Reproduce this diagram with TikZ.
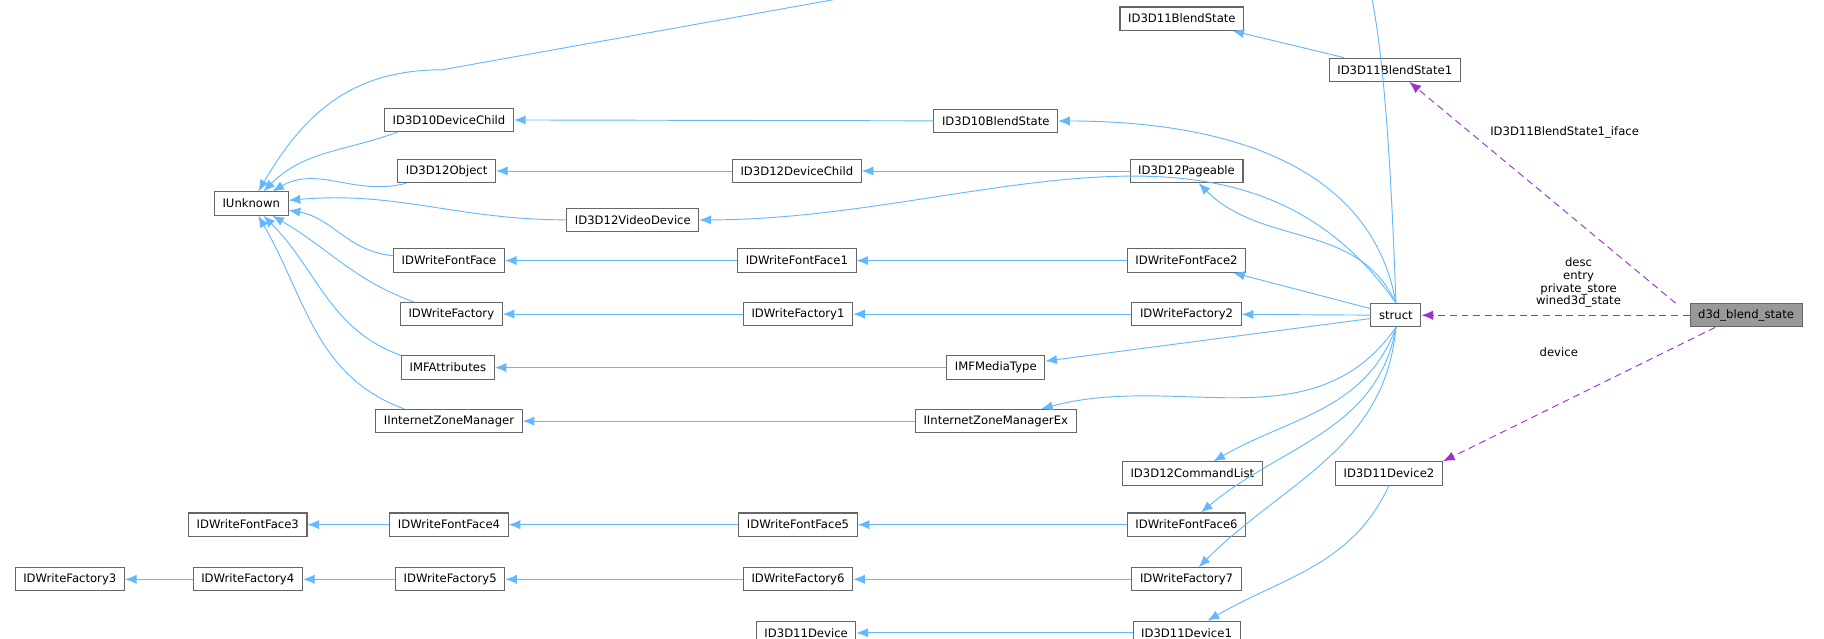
\documentclass[tikz,border=0pt]{standalone}
\usepackage{fontspec}
\setmainfont{DejaVu Sans}
\usetikzlibrary{arrows.meta}
\definecolor{eb}{HTML}{63B8FF}
\definecolor{ep}{HTML}{9A32CD}
\begin{document}
\begin{tikzpicture}[x=1pt,y=1pt,
 n/.style={draw=gray!80!black,line width=0.9pt,fill=white,minimum height=20pt,inner xsep=7pt,inner ysep=0pt,font=\fontsize{10}{12}\selectfont},
 inh/.style={draw=eb,line width=0.8pt,-{Latex[length=10pt,width=8pt]}},
 mem/.style={draw=ep,line width=0.8pt,dash pattern=on 6pt off 4pt,-{Latex[length=10pt,width=8pt]}},
 lab/.style={font=\fontsize{10}{11}\selectfont,align=center}]
\useasboundingbox (0,0) rectangle (1568,-549);
\node[n] (BS) at (1016,-16) {ID3D11BlendState};
\node[n] (BS1) at (1199,-60) {ID3D11BlendState1};
\node[n] (D10DC) at (386,-103) {ID3D10DeviceChild};
\node[n] (D10BS) at (856,-104) {ID3D10BlendState};
\node[n] (D12O) at (384,-147) {ID3D12Object};
\node[n] (D12DC) at (685,-147) {ID3D12DeviceChild};
\node[n] (D12P) at (1020,-147) {ID3D12Pageable};
\node[n] (IU) at (216,-175) {IUnknown};
\node[n] (VD) at (544,-189) {ID3D12VideoDevice};
\node[n] (FF) at (386,-224) {IDWriteFontFace};
\node[n] (FF1) at (685,-224) {IDWriteFontFace1};
\node[n] (FF2) at (1020,-224) {IDWriteFontFace2};
\node[n] (F) at (388,-270) {IDWriteFactory};
\node[n] (F1) at (686,-270) {IDWriteFactory1};
\node[n] (F2) at (1020,-270) {IDWriteFactory2};
\node[n] (S) at (1200,-271) {struct};
\node[n,fill=gray!80] (D) at (1501,-271) {d3d\_blend\_state};
\node[n] (MFA) at (385,-316) {IMFAttributes};
\node[n] (MFM) at (856,-316) {IMFMediaType};
\node[n] (IZ) at (386,-362) {IInternetZoneManager};
\node[n] (IZE) at (856,-362) {IInternetZoneManagerEx};
\node[n] (CL) at (1025,-407) {ID3D12CommandList};
\node[n] (DV2) at (1194,-407) {ID3D11Device2};
\node[n] (FF3) at (213,-451) {IDWriteFontFace3};
\node[n] (FF4) at (386,-451) {IDWriteFontFace4};
\node[n] (FF5) at (686,-451) {IDWriteFontFace5};
\node[n] (FF6) at (1020,-451) {IDWriteFontFace6};
\node[n] (F3) at (60,-498) {IDWriteFactory3};
\node[n] (F4) at (213,-498) {IDWriteFactory4};
\node[n] (F5) at (387,-498) {IDWriteFactory5};
\node[n] (F6) at (686,-498) {IDWriteFactory6};
\node[n] (F7) at (1020,-498) {IDWriteFactory7};
\node[n] (DV) at (693,-544) {ID3D11Device};
\node[n] (DV1) at (1020,-544) {ID3D11Device1};
% inheritance edges
\draw[inh] (BS1) -- (BS);
\draw[inh] (D10BS) -- (D10DC);
\draw[inh] (D12DC) -- (D12O);
\draw[inh] (D12P) -- (D12DC);
\draw[inh] (FF1) -- (FF);
\draw[inh] (FF2) -- (FF1);
\draw[inh] (F1) -- (F);
\draw[inh] (F2) -- (F1);
\draw[inh] (MFM) -- (MFA);
\draw[inh] (IZE) -- (IZ);
\draw[inh] (FF4) -- (FF3);
\draw[inh] (FF5) -- (FF4);
\draw[inh] (FF6) -- (FF5);
\draw[inh] (F4) -- (F3);
\draw[inh] (F5) -- (F4);
\draw[inh] (F6) -- (F5);
\draw[inh] (F7) -- (F6);
\draw[inh] (DV1) -- (DV);
\draw[inh] (D10DC.south west) ++(12,0) to[out=200,in=45] (IU);
\draw[inh] (D12O.south west) ++(8,0) to[out=195,in=30] (IU);
\draw[inh] (VD) to[out=180,in=5] (IU);
\draw[inh] (FF) to[out=175,in=-10] (IU);
\draw[inh] (F.north west) ++(12,0) to[out=160,in=-30] (IU);
\draw[inh] (MFA.north west) to[out=160,in=-45] (IU);
\draw[inh] (IZ.north west) ++(25,0) to[out=160,in=-60] (IU);
\draw[inh] (S.north) .. controls (1185,170) and (1150,60) .. (1050,60) -- (380,60 |- 0,-60) .. controls (300,-60) and (260,-100) .. (IU);
\draw[inh] (S.north) to[out=100,in=0] (D10BS);
\draw[inh] (S.north) to[out=115,in=-45] (D12P);
\draw[inh] (S.north) to[out=125,in=0] (VD);
\draw[inh] (S) -- (FF2);
\draw[inh] (S) -- (F2);
\draw[inh] (S) -- (MFM);
\draw[inh] (S.south) to[out=-125,in=15] (IZE);
\draw[inh] (S.south) to[out=-110,in=30] (CL);
\draw[inh] (S.south) to[out=-100,in=40] (FF6);
\draw[inh] (S.south) to[out=-95,in=45] (F7);
\draw[inh] (DV2.south) to[out=-115,in=30] (DV1);
% member edges
\draw[mem] (D.north west) ++(-12,0) -- (BS1);
\draw[mem] (D) -- (S);
\draw[mem] (D.south west) ++(22,0) -- (DV2.north east);
\node[lab] at (1345,-114) {ID3D11BlendState1\_iface};
\node[lab] at (1357,-243) {desc\\entry\\private\_store\\wined3d\_state};
\node[lab] at (1340,-303) {device};
\end{tikzpicture}
\end{document}
